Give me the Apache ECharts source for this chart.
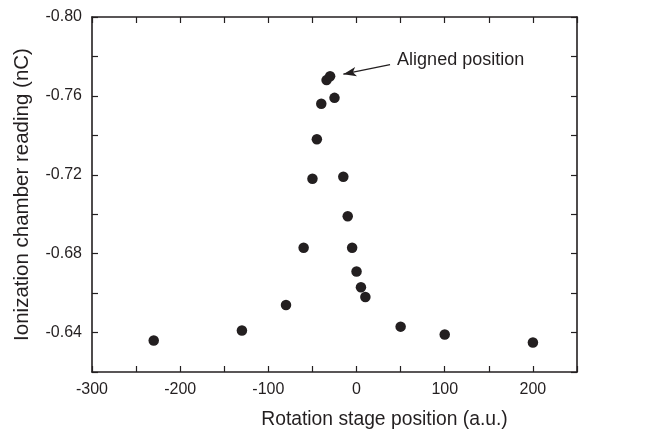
<!DOCTYPE html>
<html>
<head>
<meta charset="utf-8">
<script src="https://cdn.jsdelivr.net/npm/echarts@6/dist/echarts.min.js"></script>
<style>
html,body{margin:0;padding:0;background:#fff;}
#chart{width:655px;height:434px;}
</style>
</head>
<body>
<div id="chart"></div>
<script>
// Data
var positions = [-230, -130, -80, -60, -50, -45, -40, -34, -30, -25, -15, -10, -5, 0, 5, 10, 50, 100, 200];
var readings  = [-0.636, -0.641, -0.654, -0.683, -0.718, -0.738, -0.756, -0.768, -0.770, -0.759, -0.719, -0.699, -0.683, -0.671, -0.663, -0.658, -0.643, -0.639, -0.635];
var xTickLabels = ['-300', '-200', '-100', '0', '100', '200'];
var yTickLabels = ['-0.80', '-0.76', '-0.72', '-0.68', '-0.64'];
var annotationText = 'Aligned position';
var annotationLabelAt = [46, -0.778];
var arrowFrom = [38, -0.7758];
var arrowTo = [-15, -0.7710];

var ink = '#231f20';
var font = 'Liberation Sans, Arial, Helvetica, sans-serif';

var points = positions.map(function (x, i) { return [x, readings[i]]; });

function xFmt(v) {
  var s = String(Math.round(v));
  return xTickLabels.indexOf(s) >= 0 ? s : '';
}
function yFmt(v) {
  var s = v.toFixed(2);
  return yTickLabels.indexOf(s) >= 0 ? s : '';
}

var axisLine = { show: true, onZero: false, lineStyle: { color: ink, width: 1.6 } };
var axisTick = { show: true, inside: true, length: 6, lineStyle: { color: ink, width: 1.2 } };

var chart = echarts.init(document.getElementById('chart'), null, { renderer: 'canvas' });
chart.setOption({
  animation: false,
  backgroundColor: '#ffffff',
  grid: { left: 92, right: 78, top: 17, bottom: 62, containLabel: false },
  xAxis: [
    {
      type: 'value', position: 'bottom', min: -300, max: 250, interval: 50,
      axisLine: axisLine, axisTick: axisTick, splitLine: { show: false },
      axisLabel: { formatter: xFmt, color: ink, fontSize: 16, fontFamily: font, margin: 10 },
      name: 'Rotation stage position (a.u.)', nameLocation: 'middle', nameGap: 38,
      nameTextStyle: { color: ink, fontSize: 19.3, fontFamily: font, padding: [0, 0, 0, 100] }
    },
    {
      type: 'value', position: 'top', min: -300, max: 250, interval: 50,
      axisLine: axisLine, axisTick: axisTick, splitLine: { show: false },
      axisLabel: { show: false }
    }
  ],
  yAxis: [
    {
      type: 'value', position: 'left', inverse: true, min: -0.80, max: -0.62, interval: 0.02,
      axisLine: axisLine, axisTick: axisTick, splitLine: { show: false },
      axisLabel: { formatter: yFmt, color: ink, fontSize: 16, fontFamily: font, margin: 10 },
      name: 'Ionization chamber reading (nC)', nameLocation: 'middle', nameGap: 59,
      nameTextStyle: { color: ink, fontSize: 20.5, fontFamily: font }
    },
    {
      type: 'value', position: 'right', inverse: true, min: -0.80, max: -0.62, interval: 0.02,
      axisLine: axisLine, axisTick: axisTick, splitLine: { show: false },
      axisLabel: { show: false }
    }
  ],
  series: [
    {
      type: 'scatter',
      xAxisIndex: 0, yAxisIndex: 0,
      data: points,
      symbol: 'circle',
      symbolSize: 10.5,
      itemStyle: { color: ink, opacity: 1 },
      markLine: {
        silent: true,
        symbol: ['none', 'arrow'],
        symbolSize: [7, 13],
        label: { show: false },
        lineStyle: { color: ink, width: 1.3, type: 'solid', opacity: 1 },
        data: [[{ coord: arrowFrom }, { coord: arrowTo }]]
      },
      markPoint: {
        silent: true,
        symbol: 'circle',
        symbolSize: 0,
        data: [{ coord: annotationLabelAt, value: annotationText }],
        label: {
          show: true, position: 'right', distance: 0,
          formatter: annotationText,
          color: ink, fontSize: 18, fontFamily: font
        }
      }
    }
  ]
});
</script>
</body>
</html>
